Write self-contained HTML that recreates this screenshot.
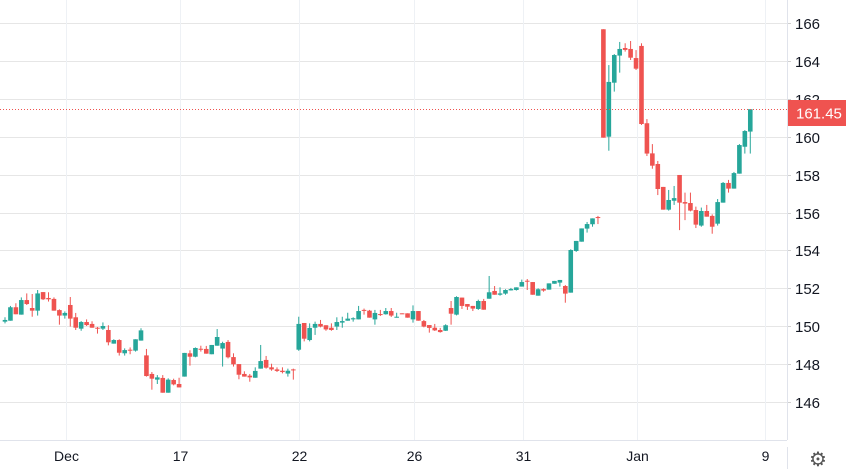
<!DOCTYPE html>
<html><head><meta charset="utf-8">
<style>
html,body{margin:0;padding:0;background:#fff;}
svg{display:block;font-family:"Liberation Sans",Arial,sans-serif;}
</style></head>
<body>
<svg id="chart" width="846" height="469" viewBox="0 0 846 469" xmlns="http://www.w3.org/2000/svg">
<g id="grid"></g>
<g id="candles"></g>
<g id="axes"></g>
</svg>
<script>
const opens  = [150.24,150.29,151.00,150.61,151.38,150.96,150.82,151.80,151.49,151.44,150.85,150.56,151.12,150.47,149.87,150.22,150.12,149.92,149.87,149.80,149.08,149.27,148.57,148.76,148.71,149.24,148.46,147.48,147.18,147.27,146.49,147.16,146.95,147.34,148.57,148.39,148.81,148.80,148.52,148.97,148.82,149.17,148.37,148.00,147.48,147.39,147.28,147.76,148.22,147.83,147.72,147.65,147.50,147.72,148.76,150.17,149.27,149.92,150.12,150.05,149.92,149.98,150.19,150.29,150.36,150.36,150.86,150.82,150.36,150.64,150.63,150.80,150.47,150.68,150.68,150.36,150.80,150.27,150.06,149.92,149.80,149.76,150.96,150.61,151.51,151.17,151.07,150.91,151.33,151.45,151.86,151.66,151.72,151.89,151.91,152.09,152.40,152.33,151.61,151.96,151.93,152.24,152.30,152.12,151.77,153.97,154.46,155.15,155.38,155.76,165.67,160.00,162.85,164.28,164.68,164.63,164.15,164.79,160.71,159.12,158.56,157.35,156.15,156.62,157.98,156.55,156.50,156.13,155.31,156.08,155.82,155.41,156.52,157.56,157.26,158.05,159.47,160.27];
const highs  = [150.47,151.07,151.21,151.52,151.73,151.70,151.91,151.80,151.79,151.52,150.89,150.78,151.54,150.70,150.27,150.36,150.26,149.96,150.20,150.05,149.31,149.31,148.83,148.88,149.31,149.89,148.80,147.58,147.42,147.42,147.25,147.23,147.28,148.59,148.73,148.88,148.97,148.96,149.01,149.85,149.18,149.27,148.57,148.00,147.62,147.48,147.83,149.01,148.43,148.02,147.83,147.83,147.76,147.76,150.50,150.17,150.15,150.24,150.33,150.05,150.15,150.47,150.50,150.71,150.47,151.07,150.93,150.86,150.86,150.86,150.96,150.96,150.71,150.68,150.68,151.10,150.80,150.33,150.06,150.12,149.91,150.10,151.33,151.58,151.51,151.17,151.07,151.40,151.44,152.65,152.12,152.05,151.95,152.02,152.05,152.46,152.49,152.33,152.00,152.00,152.26,152.39,152.44,152.17,154.06,154.50,155.16,155.50,155.69,155.82,165.67,163.78,164.36,165.00,164.93,165.05,164.57,164.93,160.93,159.61,158.72,157.35,157.19,157.40,157.98,157.05,157.05,156.31,156.26,156.40,155.90,156.71,157.61,157.72,158.14,159.61,160.35,161.45];
const lows   = [150.15,150.29,150.63,150.61,151.12,150.50,150.56,151.38,151.30,150.82,150.08,150.40,149.98,149.80,149.76,150.01,149.92,149.61,149.80,148.99,149.08,148.45,148.45,148.52,148.66,149.24,147.34,146.65,146.95,146.49,146.49,146.88,146.77,147.34,147.92,148.36,148.66,148.55,148.52,148.97,147.87,148.30,147.87,147.20,147.34,147.07,147.28,147.76,147.76,147.65,147.58,147.51,147.34,147.18,148.70,149.20,149.20,149.54,149.94,149.76,149.76,149.80,149.92,150.29,150.24,150.36,150.61,150.45,150.08,150.54,150.61,150.49,150.45,150.64,150.45,150.19,150.29,149.94,149.66,149.75,149.66,149.75,150.08,150.57,150.91,150.86,150.80,150.86,150.87,151.45,151.66,151.61,151.66,151.88,151.88,152.09,151.91,151.66,151.61,151.82,151.93,152.24,152.09,151.24,151.77,153.92,154.46,154.94,155.25,155.39,159.95,159.26,162.38,163.38,164.49,164.05,163.52,160.62,158.98,158.31,156.92,156.15,156.10,156.40,155.07,155.60,156.06,155.18,155.25,155.78,154.88,155.31,156.52,157.05,157.26,158.05,159.11,159.11];
const closes = [150.33,151.00,150.63,151.38,151.17,150.82,151.73,151.42,151.42,150.82,150.56,150.70,150.40,149.92,150.22,150.06,149.92,149.87,150.01,149.15,149.27,148.60,148.74,148.73,149.31,149.78,147.37,147.23,147.30,146.49,147.18,146.93,146.77,148.59,148.39,148.85,148.76,148.55,149.01,149.43,149.11,148.36,147.99,147.44,147.34,147.30,147.64,148.16,147.81,147.72,147.64,147.58,147.65,147.67,150.12,149.34,149.91,150.12,149.98,149.83,149.80,150.22,150.27,150.40,150.42,150.80,150.82,150.45,150.70,150.61,150.80,150.56,150.50,150.64,150.45,150.80,150.29,149.98,149.91,149.78,149.69,150.05,150.66,151.54,151.07,151.03,150.93,151.33,150.87,151.79,151.66,151.73,151.91,151.96,152.05,152.33,152.37,151.66,151.95,151.88,152.26,152.39,152.44,151.72,154.02,154.50,155.16,155.39,155.69,155.73,159.95,162.89,164.31,164.63,164.58,164.17,163.59,160.67,159.11,158.47,157.24,156.15,156.66,156.76,156.52,156.47,156.10,155.36,156.08,155.78,155.25,156.55,157.56,157.26,158.08,159.56,160.30,161.45];
const priceTicks = [146,148,150,152,154,156,158,160,162,164,166];
const dateLabels = ["Dec","17","22","26","31","Jan","9"];
const dateIndex  = [11.2,32.2,54.0,75.2,95.2,116.2,139.7];
const lastPrice = 161.45;

const NS="http://www.w3.org/2000/svg";
const PLOT_R=787, AXIS_Y=440;
function yScale(p){return 23+(166-p)*18.95;}
function xScale(i){return 5+i*5.44;}
function mk(tag,attrs,parent){const e=document.createElementNS(NS,tag);for(const k in attrs)e.setAttribute(k,attrs[k]);parent.appendChild(e);return e;}
const grid=document.getElementById('grid'),cg=document.getElementById('candles'),ax=document.getElementById('axes');

priceTicks.forEach(p=>{
  const y=Math.round(yScale(p))+0.5;
  const l=mk('line',{x1:0,x2:PLOT_R,y1:y,y2:y,stroke:'#e6e6e6','stroke-width':1},grid);
  
  
  const t=mk('line',{x1:PLOT_R,x2:PLOT_R+4,y1:y,y2:y,stroke:'#d0d0d0','stroke-width':1},ax);
  
  
  const tx=mk('text',{x:795,y:y+5.5,'font-size':15,fill:'#131722'},ax);
  tx.textContent=p;
  
  
});
dateLabels.forEach((d,k)=>{
  const x=Math.round(xScale(dateIndex[k]))+0.5;
  const l=mk('line',{x1:x,x2:x,y1:0,y2:AXIS_Y,stroke:'#eef1f5','stroke-width':1},grid);
  
  
  const tx=mk('text',{x:x,y:461,'font-size':14,fill:'#131722','text-anchor':'middle'},ax);
  tx.textContent=d;
  
  
});

opens.forEach((o,i)=>{
  const c=closes[i],up=c>=o,col=up?'#26a69a':'#ef5350';
  const x=xScale(i);
  const w=mk('line',{x1:x,x2:x,y1:yScale(highs[i]),y2:yScale(lows[i]),stroke:col,'stroke-width':1},cg);
  
  
  const top=yScale(Math.max(o,c)),bot=yScale(Math.min(o,c));
  const r=mk('rect',{x:x-2.3,y:top,width:4.6,height:Math.max(1,bot-top),fill:col},cg);
  
  
});

const ly=Math.round(yScale(lastPrice))+0.5;
const dl=mk('line',{x1:0,x2:PLOT_R,y1:ly,y2:ly,stroke:'#ef5350','stroke-width':1,'stroke-dasharray':'1 2'},ax);


const lb=mk('rect',{x:788,y:ly-9.5,width:58,height:26,fill:'#ef5350'},ax);


const lt=mk('text',{x:796,y:ly+9,'font-size':15,fill:'#ffffff'},ax);
lt.textContent=lastPrice.toFixed(2);



const a1=mk('line',{x1:PLOT_R+0.5,x2:PLOT_R+0.5,y1:0,y2:AXIS_Y,stroke:'#e0e3eb','stroke-width':1},ax);


const a2=mk('line',{x1:0,x2:PLOT_R,y1:AXIS_Y+0.5,y2:AXIS_Y+0.5,stroke:'#e0e3eb','stroke-width':1},ax);


const a3=mk('line',{x1:PLOT_R+0.5,x2:PLOT_R+0.5,y1:447,y2:469,stroke:'#e0e3eb','stroke-width':1},ax);


const gear=mk('text',{x:818,y:466,'font-size':20,fill:'#555','text-anchor':'middle'},ax);
gear.textContent='⚙';


</script>
</body></html>
